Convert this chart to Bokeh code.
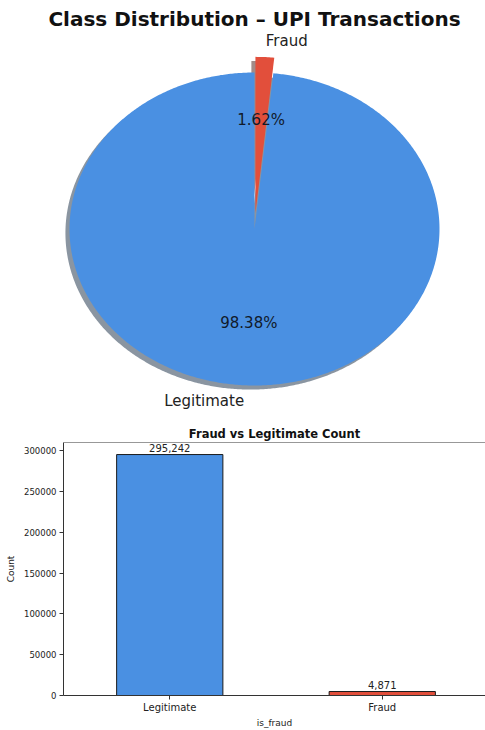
import math

from bokeh.core.properties import value
from bokeh.embed import file_html
from bokeh.models import BasicTickFormatter, ColumnDataSource, FixedTicker, Label, Range1d, Span
from bokeh.plotting import figure
from bokeh.resources import INLINE

# ---- data -------------------------------------------------------------
classes = ["Legitimate", "Fraud"]
counts = [295242, 4871]
colors = ["#4A90E2", "#E24F3B"]
explode = [0.0, 0.1]
y_ticks = [0, 50000, 100000, 150000, 200000, 250000, 300000]

FONT = "DejaVu Sans"
W = 485
PIE_H = 415
BAR_H = 315

# ---- pie panel ----------------------------------------------------------
# centre and pixel radii of the (stretched) pie
CX, CY = 254.0, 228.5
RX, RY = 185.0, 156.5
SHADOW_DX, SHADOW_DY = -0.022, -0.026

pie = figure(
    width=W, height=PIE_H, output_backend="svg", toolbar_location=None,
    x_range=Range1d(-CX / RX, (W - CX) / RX),
    y_range=Range1d(-(PIE_H - CY) / RY, CY / RY),
    min_border=0, x_axis_location=None, y_axis_location=None,
)
pie.grid.visible = False
pie.outline_line_color = None
pie.background_fill_color = "white"


def shade(hex_color):
    r, g, b = (int(hex_color[i:i + 2], 16) for i in (1, 3, 5))
    return "#%02x%02x%02x" % (int(r * 0.3), int(g * 0.3), int(b * 0.3))


total = float(sum(counts))
start = 90.0
wedge_xs, wedge_ys, shadow_xs, shadow_ys, shadow_cols = [], [], [], [], []
label_specs, pct_specs = [], []
for name, cnt, col, ex in zip(classes, counts, colors, explode):
    frac = cnt / total
    t1, t2 = start, start + 360.0 * frac
    mid = math.radians((t1 + t2) / 2.0)
    ox, oy = ex * math.cos(mid), ex * math.sin(mid)
    n = max(6, int(abs(t2 - t1) * 2))
    ts = [math.radians(t1 + (t2 - t1) * i / n) for i in range(n + 1)]
    xs = [ox] + [ox + math.cos(t) for t in ts]
    ys = [oy] + [oy + math.sin(t) for t in ts]
    wedge_xs.append(xs)
    wedge_ys.append(ys)
    shadow_xs.append([x + SHADOW_DX for x in xs])
    shadow_ys.append([y + SHADOW_DY for y in ys])
    shadow_cols.append(shade(col))
    lx, ly = ox + 1.1 * math.cos(mid), oy + 1.1 * math.sin(mid)
    label_specs.append((lx, ly, name, "left" if lx > 0 else "right"))
    pct_specs.append((ox + 0.6 * math.cos(mid), oy + 0.6 * math.sin(mid), f"{frac * 100:.2f}%"))
    start = t2

pie.patches(shadow_xs, shadow_ys, fill_color=shadow_cols, fill_alpha=0.5, line_color=None)
pie.patches(wedge_xs, wedge_ys, fill_color=colors, line_color=None)

for lx, ly, txt, align in label_specs:
    pie.text(x=[lx], y=[ly], text=[txt], text_align=align, text_baseline="middle",
             text_font=value(FONT), text_font_size="15px", text_color="#222222")
for px, py, txt in pct_specs:
    pie.text(x=[px], y=[py], text=[txt], text_align="center", text_baseline="middle",
             text_font=value(FONT), text_font_size="15px", text_color="#111a2a")

pie.add_layout(Label(
    x=0, y=(CY - 18) / RY, text="Class Distribution \u2013 UPI Transactions",
    text_align="center", text_baseline="middle", text_font=FONT,
    text_font_size="20px", text_font_style="bold", text_color="#111111",
))

# ---- bar panel ----------------------------------------------------------
FRAME_LEFT = 63
PX_PER_CAT = 212.5
y_max = max(counts) * 1.05
xs_bar = list(range(len(classes)))

bar = figure(
    width=W, height=BAR_H, output_backend="svg", toolbar_location=None,
    x_range=Range1d(-0.5, -0.5 + (W - FRAME_LEFT) / PX_PER_CAT),
    y_range=Range1d(0, y_max),
    min_border_left=FRAME_LEFT, min_border_right=0, min_border_top=27, min_border_bottom=29,
    title="Fraud vs Legitimate Count",
)
bar.title.align = "center"
bar.title.text_font = FONT
bar.title.text_font_size = "11.5px"
bar.title.text_font_style = "bold"
bar.title.text_color = "#111111"
bar.title.standoff = 3
bar.grid.visible = False
bar.outline_line_color = None
bar.background_fill_color = "white"

src = ColumnDataSource(dict(
    x=xs_bar, count=counts, color=colors, label=[f"{c:,}" for c in counts],
))
bar.vbar(x="x", top="count", width=0.5, fill_color="color", line_color="#1a1a1a",
         line_width=1, source=src)
bar.text(x="x", y="count", text="label", text_align="center", text_baseline="bottom",
         y_offset=-3, text_font=value(FONT), text_font_size="10px", text_color="#222222",
         source=src)

bar.add_layout(Span(location=y_max, dimension="width", line_color="#333333", line_width=1))

for ax in (bar.xaxis[0], bar.yaxis[0]):
    ax.axis_line_color = "#333333"
    ax.major_tick_line_color = "#333333"
    ax.major_tick_out = 4
    ax.major_tick_in = 0
    ax.minor_tick_line_color = None
    ax.major_label_text_font = FONT
    ax.major_label_text_color = "#222222"
    ax.axis_label_text_font = FONT
    ax.axis_label_text_font_style = "normal"
    ax.axis_label_text_font_size = "9px"
    ax.axis_label_text_color = "#222222"

bar.xaxis.ticker = FixedTicker(ticks=xs_bar)
bar.xaxis.major_label_overrides = {i: name for i, name in zip(xs_bar, classes)}
bar.xaxis.major_label_text_font_size = "10px"
bar.xaxis.major_label_standoff = 2
bar.xaxis.axis_label = "is_fraud"
bar.xaxis.axis_label_standoff = 2

bar.yaxis.ticker = FixedTicker(ticks=y_ticks)
bar.yaxis.formatter = BasicTickFormatter(use_scientific=False)
bar.yaxis.major_label_text_font_size = "8.5px"
bar.yaxis.major_label_standoff = 3
bar.yaxis.axis_label = "Count"
bar.yaxis.axis_label_standoff = 5

# two independent roots stacked on the page, so the pie frame keeps its own borders
with open("out.html", "w") as f:
    f.write(file_html([pie, bar], INLINE))
